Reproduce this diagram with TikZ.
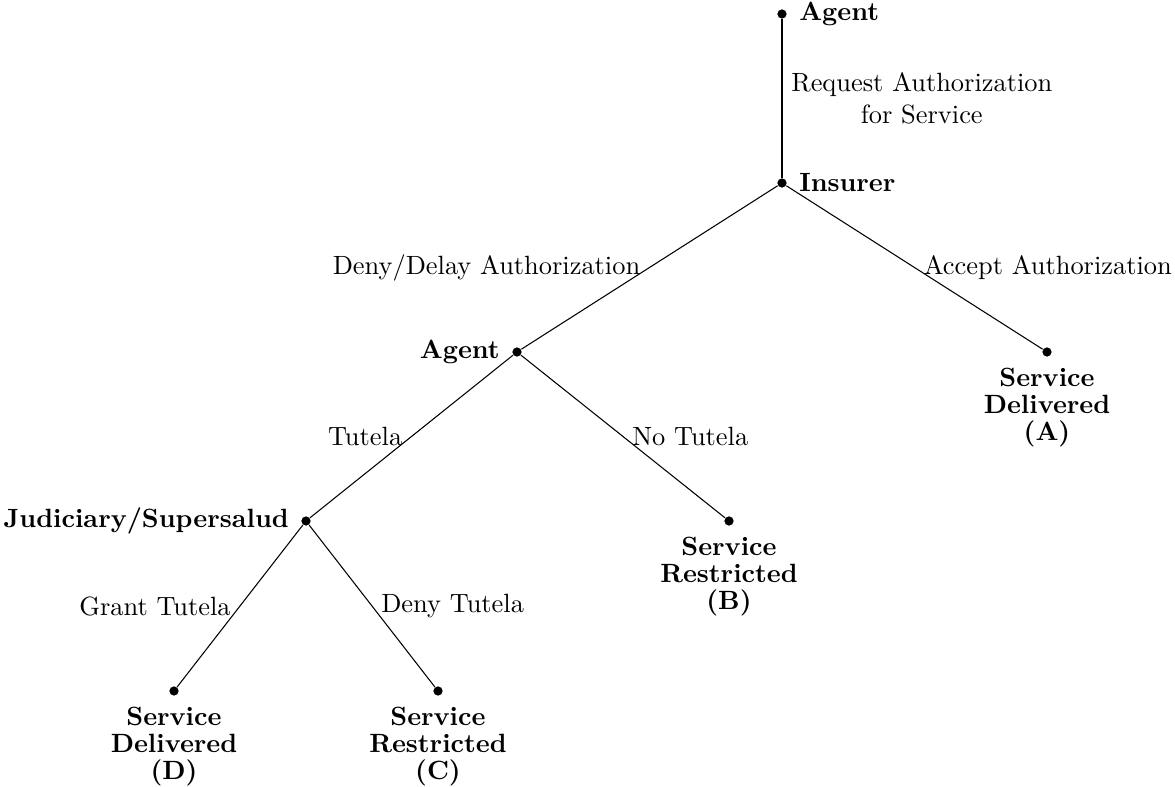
\documentclass[tikz,border=0pt]{standalone}
\begin{document}
\begin{tikzpicture}[x=0.3788pt,y=-0.3788pt,
  dot/.style={circle,fill=black,inner sep=0pt,minimum size=3.5pt},
  player/.style={font=\bfseries},
  leaf/.style={font=\bfseries\fontsize{10}{10.3}\selectfont,align=center,anchor=north},
  branch/.style={line width=0.4pt}]
\useasboundingbox (0,0) rectangle (1175,787);
% decision nodes
\node[dot] (n0) at (782,14) {};
\node[dot] (n1) at (782,183) {};
\node[dot] (n2) at (517,352) {};
\node[dot] (n3) at (306,521) {};
% terminal nodes
\node[dot] (tA) at (1047,352) {};
\node[dot] (tB) at (729,521) {};
\node[dot] (tD) at (174,691) {};
\node[dot] (tC) at (438,691) {};
% player labels
\node[player,anchor=west] (p0) at ([xshift=3pt]n0.center) {Agent};
\node[player,anchor=west] (p1) at ([xshift=3pt]n1.center) {Insurer};
\node[player,anchor=east] (p2) at ([xshift=-3pt]n2.center) {Agent};
\node[player,anchor=east] (p3) at ([xshift=-3pt]n3.center) {Judiciary/Supersalud};
% outcomes
\node[leaf] (oA) at ([yshift=-2.6pt]tA.center) {Service\\Delivered\\(A)};
\node[leaf] (oB) at ([yshift=-2.6pt]tB.center) {Service\\Restricted\\(B)};
\node[leaf] (oD) at ([yshift=-2.6pt]tD.center) {Service\\Delivered\\(D)};
\node[leaf] (oC) at ([yshift=-2.6pt]tC.center) {Service\\Restricted\\(C)};
% branches
\draw[branch] (n0) -- node[midway,right,align=center] {Request Authorization\\for Service} (n1);
\draw[branch] (n1) -- node[midway,left] {Deny/Delay Authorization} (n2);
\draw[branch] (n1) -- node[midway,right] {Accept Authorization} (tA);
\draw[branch] (n2) -- node[midway,left] {Tutela} (n3);
\draw[branch] (n2) -- node[midway,right] {No Tutela} (tB);
\draw[branch] (n3) -- node[midway,left] {Grant Tutela} (tD);
\draw[branch] (n3) -- node[midway,right] {Deny Tutela} (tC);
\end{tikzpicture}
\end{document}
